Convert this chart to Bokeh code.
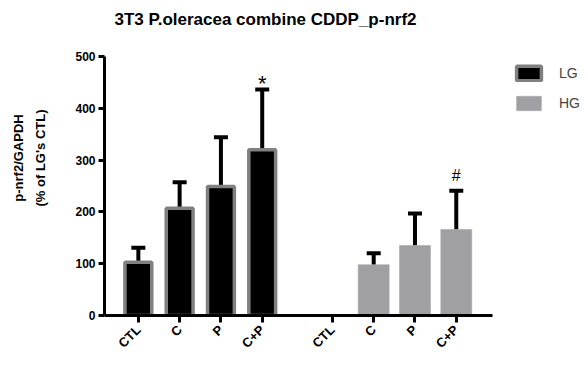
import math
from bokeh.plotting import figure
from bokeh.models import (ColumnDataSource, Whisker, TeeHead, FixedTicker, Legend,
                          LegendItem, Range1d, Label)
from bokeh.embed import file_html
from bokeh.resources import INLINE
from bokeh.core.properties import value

title = "3T3 P.oleracea combine CDDP_p-nrf2"
y_label = "p-nrf2/GAPDH\n(% of LG's CTL)"
treatments = ["CTL", "C", "P", "C+P"]
groups = ["LG", "HG"]
lg_mean = [103, 207, 249, 320]
lg_sd = [28, 50, 95, 116]
hg_mean = [0, 98, 135, 166]
hg_sd = [0, 22, 62, 75]
lg_marks = ["", "", "", "*"]
hg_marks = ["", "", "", "#"]
y_ticks = [0, 100, 200, 300, 400, 500]

FONT = "Liberation Sans"
STEP = 10
HG_START = 47
X_LO, X_AXIS_HI, X_HI = -8.2, 85.7, 108.3
Y_LO, Y_AXIS_HI, Y_HI = 0, 500, 608

lg_x = [i * STEP for i in range(len(treatments))]
hg_x = [HG_START + i * STEP for i in range(len(treatments))]

p = figure(width=585, height=365, x_range=Range1d(X_LO, X_HI), y_range=Range1d(Y_LO, Y_HI),
           output_backend="svg", toolbar_location=None,
           min_border_left=104, min_border_right=0, min_border_top=0, min_border_bottom=50)
p.outline_line_color = None
p.xgrid.visible = False
p.ygrid.visible = False

p.add_layout(Label(x=161, y=296, x_units="screen", y_units="screen", text=title,
                   text_align="center", text_baseline="middle", text_font=FONT,
                   text_font_size="17px", text_font_style="bold", text_color="black"))

lg_src = ColumnDataSource(dict(x=lg_x, top=lg_mean))
hg_src = ColumnDataSource(dict(x=hg_x, top=hg_mean))

r_lg = p.vbar(x="x", top="top", width=6.5, source=lg_src, fill_color="black",
              line_color="#808080", line_width=3.5)
r_hg = p.vbar(x="x", top="top", width=7.5, source=hg_src, fill_color="#a0a0a4",
              line_color="#a0a0a4", line_width=0.5)

for xs, ms, ss in ((lg_x, lg_mean, lg_sd), (hg_x, hg_mean, hg_sd)):
    keep = [i for i in range(len(xs)) if ss[i] > 0]
    wsrc = ColumnDataSource(dict(x=[xs[i] for i in keep], lower=[ms[i] for i in keep],
                                 upper=[ms[i] + ss[i] for i in keep]))
    w = Whisker(base="x", lower="lower", upper="upper", source=wsrc,
                line_color="black", line_width=4, lower_head=None,
                upper_head=TeeHead(size=14, line_width=4, line_color="black"))
    p.add_layout(w)

# significance marks
lg_mark_src = ColumnDataSource(dict(x=lg_x, y=[m + s + 12 for m, s in zip(lg_mean, lg_sd)], t=lg_marks))
hg_mark_src = ColumnDataSource(dict(x=hg_x, y=[m + s + 30 for m, s in zip(hg_mean, hg_sd)], t=hg_marks))
p.text(x="x", y="y", text="t", source=lg_mark_src, text_font=value(FONT), text_font_size="22px",
       text_align="center", text_baseline="alphabetic", text_color="black")
p.text(x="x", y="y", text="t", source=hg_mark_src, text_font=value(FONT), text_font_size="16px",
       text_align="center", text_baseline="alphabetic", text_color="black")

# axes
xa = p.xaxis[0]
xa.bounds = (X_LO, X_AXIS_HI)
xa.ticker = FixedTicker(ticks=lg_x + hg_x)
xa.major_label_overrides = {x: t for x, t in zip(lg_x + hg_x, treatments + treatments)}
xa.major_label_orientation = math.pi / 4
xa.minor_tick_line_color = None
xa.axis_line_width = 3
xa.major_tick_line_width = 3
xa.major_tick_out = 7
xa.major_tick_in = 0
xa.major_label_standoff = 5
xa.major_label_text_font = FONT
xa.major_label_text_font_style = "bold"
xa.major_label_text_font_size = "13px"
xa.major_label_text_color = "black"

ya = p.yaxis[0]
ya.bounds = (Y_LO, Y_AXIS_HI)
ya.ticker = FixedTicker(ticks=y_ticks)
ya.minor_tick_line_color = None
ya.axis_line_width = 3
ya.major_tick_line_width = 3
ya.major_tick_out = 6
ya.major_tick_in = 0
ya.major_label_standoff = 3
ya.major_label_text_font = FONT
ya.major_label_text_font_style = "bold"
ya.major_label_text_font_size = "12px"
ya.major_label_text_color = "black"
ya.axis_label = y_label
ya.axis_label_text_font = FONT
ya.axis_label_text_font_style = "bold"
ya.axis_label_text_font_size = "13px"
ya.axis_label_text_line_height = 1.5
ya.axis_label_text_color = "black"
ya.axis_label_standoff = 24

legend = Legend(items=[LegendItem(label=groups[0], renderers=[r_lg]),
                       LegendItem(label=groups[1], renderers=[r_hg])],
                location=(409, 203), glyph_width=31, glyph_height=18, spacing=12,
                label_standoff=15, padding=2, margin=0, border_line_color=None,
                background_fill_alpha=0, label_text_font=FONT, label_text_font_size="14px")
p.add_layout(legend)

open("out.html", "w").write(file_html(p, INLINE))
